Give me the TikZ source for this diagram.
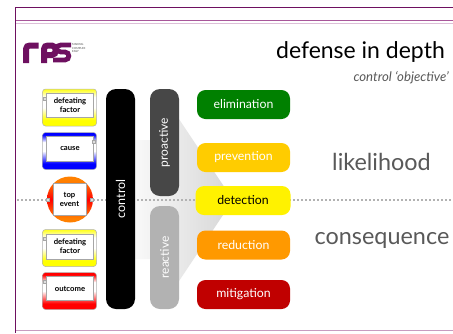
\documentclass[tikz,border=0pt]{standalone}
\usepackage{fontspec}
\setmainfont{Lato}
\definecolor{plum}{HTML}{6E1060}
\definecolor{lineB}{HTML}{A8579A}
\definecolor{lineC}{HTML}{DDBFD8}
\pgfdeclareverticalshading{yband}{100bp}{color(0bp)=(yellow); color(33bp)=(yellow); color(50bp)=(white); color(64bp)=(white); color(74bp)=(yellow!85!white); color(100bp)=(yellow)}
\pgfdeclareverticalshading{bband}{100bp}{color(0bp)=(blue); color(33bp)=(blue); color(50bp)=(white); color(62bp)=(white); color(72bp)=(blue); color(100bp)=(blue)}
\pgfdeclareverticalshading{rband}{100bp}{color(0bp)=(red); color(33bp)=(red); color(50bp)=(white); color(62bp)=(white); color(72bp)=(red); color(100bp)=(red)}
\pgfdeclareverticalshading{oband}{100bp}{color(0bp)=(orange); color(30bp)=(orange); color(50bp)=(red); color(70bp)=(orange); color(100bp)=(orange)}
\tikzset{
  pill/.style={rounded corners=8.5pt,minimum width=93pt,minimum height=29pt,inner sep=0pt,font=\fontsize{12.3}{13}\selectfont,text=white},
  bar/.style={rounded corners=10pt,minimum height=29pt,inner sep=0pt,text=white,rotate=90},
  cardbg/.style={rounded corners=3pt,minimum width=54pt,minimum height=37pt,inner sep=0pt,draw=gray!60,line width=.5pt},
  cardin/.style={fill=white,draw=gray!70,line width=.7pt,minimum width=47pt,inner sep=0pt,align=center,font=\bfseries\fontsize{7.7}{9}\selectfont},
  hnd/.style={fill=gray!25,draw=gray!70,line width=.3pt,minimum size=3.2pt,inner sep=0pt},
  sidelab/.style={text=black!65,font=\fontsize{23.4}{26}\selectfont},
}
\begin{document}
\begin{tikzpicture}[x=1pt,y=-1pt]
\useasboundingbox (0,0) rectangle (453,333);
\fill[white] (0,0) rectangle (453,333);
% frame
\draw[plum,line width=1.3pt] (453,7.5) -- (15.5,7.5) -- (15.5,333);
\draw[lineB,line width=.9pt] (16,20.5) -- (453,20.5);
\draw[lineC,line width=.9pt] (16,23.5) -- (453,23.5);
\draw[lineC!80!plum,line width=1pt] (16,330) -- (453,330);
% title
\node[anchor=east,inner sep=0pt,font=\fontsize{23}{26}\selectfont] (title) at (445,52) {defense in depth};
\node[anchor=east,inner sep=0pt,text=black!65,font=\itshape\fontsize{13.2}{14}\selectfont] (subtitle) at (449,78) {control ‘objective’};
% logo
\begin{scope}[plum,line width=6pt]
\draw (26,63) -- (26,49) .. controls (26,46.5) and (28,45.5) .. (30,45.5) -- (38.5,45.5);
\draw (44,63) -- (44,49) .. controls (44,46.5) and (46,45.5) .. (48,45.5) -- (52,45.5) .. controls (57,45.5) and (57,55) .. (52,55) -- (45,55);
\end{scope}
\begin{scope}[plum,line width=4.8pt]
\draw (71,45) -- (61,45) .. controls (55,45) and (55,52) .. (61,52) -- (65,52) .. controls (70,52) and (70,60) .. (65,60) -- (53,60);
\end{scope}
\node[anchor=west,inner sep=0pt,text=black!70,align=left,font=\fontsize{2.8}{3.6}\selectfont] (logotext) at (72,48) {MAKING\\COMPLEX\\EASY};
% grey wedge
\shade[left color=gray!5,right color=gray!32] (135,140) -- (179,140) -- (179,119) -- (233,200) -- (179,281) -- (179,259) -- (135,259) -- cycle;
% dotted line
\draw[gray!60,line width=1.6pt,dash pattern=on 1.7pt off 2.3pt] (17,200) -- (452,200);
% bars
\node[bar,fill=black,minimum width=220pt,font=\fontsize{12.5}{13}\selectfont] (control) at (120.5,199) {control};
\node[bar,fill=black!72,minimum width=107pt,font=\fontsize{12}{13}\selectfont] (proactive) at (164.5,142.5) {proactive};
\node[bar,fill=black!30,minimum width=103pt,font=\fontsize{12}{13}\selectfont] (reactive) at (164.5,257.5) {reactive};
% pills
\node[pill,fill=green!50!black] (elimination) at (243.5,104.5) {elimination};
\node[pill,fill={rgb,255:red,255;green,204;blue,0}] (prevention) at (243.5,157.5) {prevention};
\node[pill,fill=yellow,text=black,minimum width=95pt] (detection) at (243,200.5) {detection};
\node[pill,fill={rgb,255:red,255;green,153;blue,0}] (reduction) at (243.5,245) {reduction};
\node[pill,fill={rgb,255:red,192;green,0;blue,0}] (mitigation) at (243.5,294.5) {mitigation};
% side labels
\node[sidelab] (likelihood) at (381.5,162) {likelihood};
\node[sidelab] (consequence) at (382,240.5) {consequence};
% cards
\node[cardbg,shading=yband] (d1) at (69.5,107.5) {};
\node[cardbg,shading=bband] (c1) at (69.5,151) {};
\node[cardbg,shading=yband] (d2) at (69.5,248) {};
\node[cardbg,shading=rband] (o1) at (69.5,291) {};
\node[cardin,minimum height=24pt] (d1t) at (70,105.5) {defeating\\factor};
\node[cardin,minimum height=25pt] (c1t) at (70,148.5) {cause};
\node[cardin,minimum height=25pt] (d2t) at (70,246.5) {defeating\\factor};
\node[cardin,minimum height=24pt] (o1t) at (70,288.5) {outcome};
% top event
\node[circle,minimum size=46pt,inner sep=0pt,shading=oband] (te) at (70,199.5) {};
\node[cardin,minimum width=33pt,minimum height=32pt] (tet) at (69.5,199) {top\\event};
% handles
\node[hnd] (h1) at (44.5,99) {};
\node[hnd] (h2) at (94,141.5) {};
\node[hnd] (h3) at (47.5,200) {};
\node[hnd] (h4) at (91.5,200) {};
\node[hnd] (h5) at (44.5,239) {};
\node[hnd] (h6) at (44.5,282) {};
\end{tikzpicture}
\end{document}
